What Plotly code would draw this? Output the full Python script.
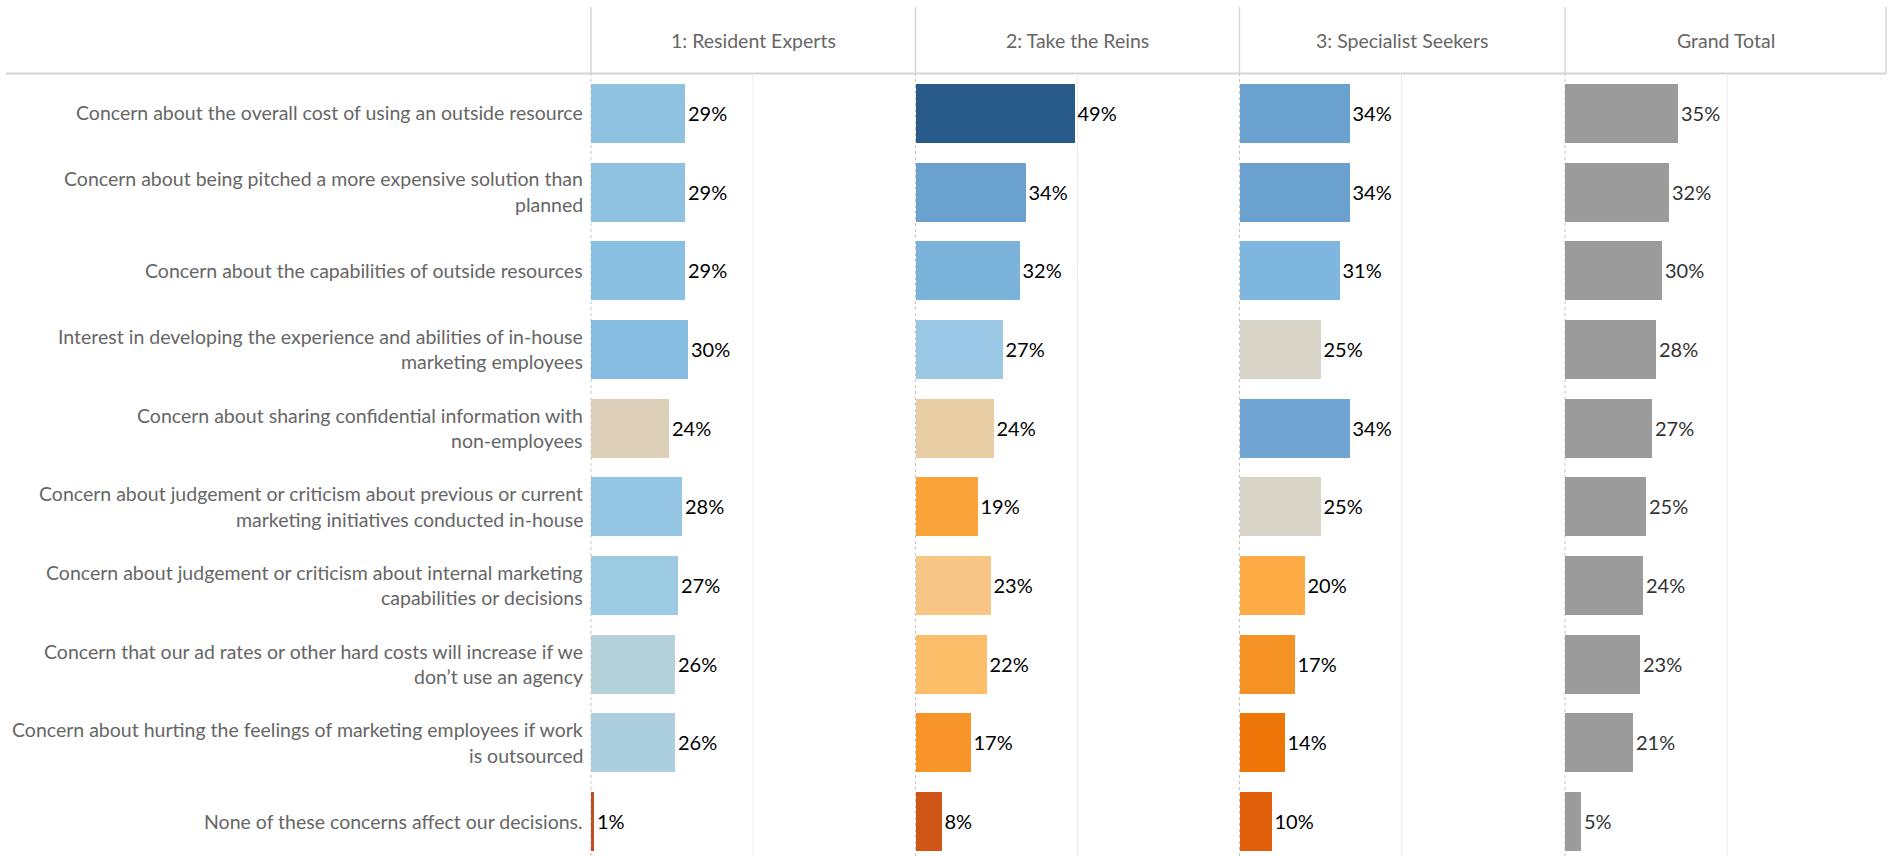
import plotly.graph_objects as go

# Survey statements (row labels, wrapped as displayed)
categories = [
    "Concern about the overall cost of using an outside resource",
    "Concern about being pitched a more expensive solution than<br>planned",
    "Concern about the capabilities of outside resources",
    "Interest in developing the experience and abilities of in-house<br>marketing employees",
    "Concern about sharing confidential information with<br>non-employees",
    "Concern about judgement or criticism about previous or current<br>marketing initiatives conducted in-house",
    "Concern about judgement or criticism about internal marketing<br>capabilities or decisions",
    "Concern that our ad rates or other hard costs will increase if we<br>don\u2019t use an agency",
    "Concern about hurting the feelings of marketing employees if work<br>is outsourced",
    "None of these concerns affect our decisions.",
]

segments = ["1: Resident Experts", "2: Take the Reins", "3: Specialist Seekers", "Grand Total"]

resident_experts = [0.29, 0.29, 0.29, 0.30, 0.24, 0.28, 0.27, 0.26, 0.26, 0.01]
take_the_reins = [0.49, 0.34, 0.32, 0.27, 0.24, 0.19, 0.23, 0.22, 0.17, 0.08]
specialist_seekers = [0.34, 0.34, 0.31, 0.25, 0.34, 0.25, 0.20, 0.17, 0.14, 0.10]
grand_total = [0.35, 0.32, 0.30, 0.28, 0.27, 0.25, 0.24, 0.23, 0.21, 0.05]

# Orange-blue diverging fills per bar
colors_resident = ["#8fc1e0", "#8fc1e0", "#89bfe0", "#86bcdf", "#ded0b8",
                   "#94c5e2", "#9dcae3", "#b5d1d9", "#abcfdf", "#c0501e"]
colors_reins = ["#295b8a", "#6aa1cf", "#7bb2d9", "#9bc9e5", "#e9cda5",
                "#f9a339", "#f8c684", "#fdbe6a", "#f7942a", "#d05618"]
colors_specialist = ["#6aa1cf", "#6aa1cf", "#7eb6df", "#d8d4c8", "#71a6d4",
                     "#d8d4c8", "#fdac45", "#f59226", "#ee7609", "#e0600c"]
colors_total = ["#9b9b9b"] * 10

series = [resident_experts, take_the_reins, specialist_seekers, grand_total]
series_colors = [colors_resident, colors_reins, colors_specialist, colors_total]
text_colors = ["#000000", "#000000", "#000000", "#333333"]

W, H = 1889, 856
HEADER_Y = 73.5
ROW_PITCH = 78.7
PANEL_W = 324.0
panel_edges = [591, 915.5, 1239.5, 1565, 1886]
LABEL_FONT = "Lato, 'Open Sans', sans-serif"
GRID = "#d6d6d6"

def px_x(x):
    return x / W

def px_y(y):
    return 1 - y / H

rows = list(range(len(categories)))
y_bottom = -0.5 + (H - HEADER_Y) / ROW_PITCH

fig = go.Figure()
layout_axes = {}
for i, (vals, cols) in enumerate(zip(series, series_colors)):
    xname = "x" if i == 0 else f"x{i + 1}"
    fig.add_trace(go.Bar(
        x=vals, y=rows, orientation="h",
        xaxis=xname, yaxis="y",
        marker=dict(color=cols, line=dict(width=0)),
        width=0.75,
        text=[f"{round(v * 100)}%" for v in vals],
        textposition="outside",
        textfont=dict(family=LABEL_FONT, size=20, color=text_colors[i]),
        cliponaxis=False,
        hoverinfo="skip",
        showlegend=False,
    ))
    key = "xaxis" if i == 0 else f"xaxis{i + 1}"
    layout_axes[key] = dict(
        domain=[px_x(panel_edges[i]), min(1.0, px_x(panel_edges[i] + PANEL_W))],
        range=[0, 1.0], anchor="y",
        showgrid=False, zeroline=False, showticklabels=False, ticks="",
        fixedrange=True,
    )

shapes = []
# header rule
shapes.append(dict(type="line", xref="paper", yref="paper",
                   x0=px_x(6), x1=px_x(1886), y0=px_y(HEADER_Y), y1=px_y(HEADER_Y),
                   line=dict(color=GRID, width=2), layer="below"))
# header column separators
for xe in panel_edges:
    shapes.append(dict(type="line", xref="paper", yref="paper",
                       x0=px_x(xe), x1=px_x(xe), y0=px_y(7), y1=px_y(HEADER_Y),
                       line=dict(color=GRID, width=1.5), layer="below"))
for i in range(4):
    xe = panel_edges[i]
    # dotted zero line
    shapes.append(dict(type="line", xref="paper", yref="paper",
                       x0=px_x(xe), x1=px_x(xe), y0=0, y1=px_y(HEADER_Y),
                       line=dict(color="#c4c4c4", width=1, dash="dot"), layer="below"))
    # 50% gridline
    xref = "x" if i == 0 else f"x{i + 1}"
    shapes.append(dict(type="line", xref=xref, yref="paper",
                       x0=0.5, x1=0.5, y0=0, y1=px_y(HEADER_Y),
                       line=dict(color="#ececec", width=1), layer="below"))

annotations = []
for i, name in enumerate(segments):
    cx = (panel_edges[i] + panel_edges[i + 1]) / 2
    annotations.append(dict(
        text=name, xref="paper", yref="paper", x=px_x(cx), y=px_y(41),
        xanchor="center", yanchor="middle", showarrow=False,
        font=dict(family=LABEL_FONT, size=19.5, color="#666666"),
    ))

LINE_GAP = 25.3
for r, label in zip(rows, categories):
    lines = label.split("<br>")
    n = len(lines)
    for k, line in enumerate(lines):
        offset = ((n - 1) / 2 - k) * LINE_GAP
        annotations.append(dict(
            text=line, xref="paper", yref="y", x=px_x(585), y=r,
            yshift=offset, xanchor="right", yanchor="middle", showarrow=False,
            font=dict(family=LABEL_FONT, size=19.5, color="#666666"),
        ))

fig.update_layout(
    width=W, height=H,
    margin=dict(l=0, r=0, t=0, b=0),
    paper_bgcolor="white", plot_bgcolor="white",
    yaxis=dict(domain=[0, px_y(HEADER_Y)], range=[y_bottom, -0.5],
               showgrid=False, zeroline=False, showticklabels=False, ticks="",
               fixedrange=True),
    shapes=shapes, annotations=annotations,
    bargap=0,
    **layout_axes,
)

fig.write_html("out.html")
